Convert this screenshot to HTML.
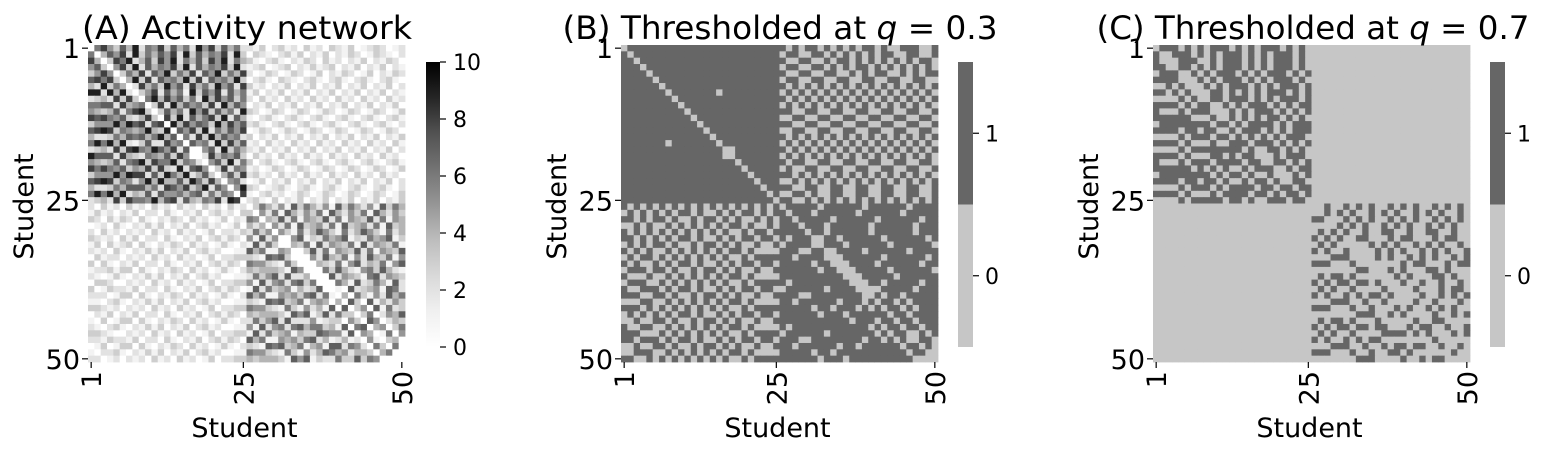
<!DOCTYPE html>
<html><head><meta charset="utf-8"><style>
body{margin:0;background:#fff}
svg text{font-family:"DejaVu Sans","Liberation Sans",sans-serif;fill:#000}
</style></head><body>
<svg id="fig" width="1546" height="452" viewBox="0 0 1546 452" xmlns="http://www.w3.org/2000/svg">
<defs>
<linearGradient id="greys" x1="0" y1="1" x2="0" y2="0">
<stop offset="0" stop-color="#ffffff"/><stop offset="0.125" stop-color="#f0f0f0"/><stop offset="0.25" stop-color="#d9d9d9"/><stop offset="0.375" stop-color="#bdbdbd"/><stop offset="0.5" stop-color="#969696"/><stop offset="0.625" stop-color="#737373"/><stop offset="0.75" stop-color="#525252"/><stop offset="0.875" stop-color="#252525"/><stop offset="1" stop-color="#000000"/>
</linearGradient>
</defs>
</svg>
<script>
const topLeft=["0685374926583746295837462","6047582936475829374658293","5703869247385926473859264","7460583927465839274658392","4859036482759364827593648","8275604938275649382756493","3946750284639572846395728","9527468035827461937582746","2694857306948573629485736","6382947560382947563829475","5837462950837462958374629","7469283746058392746839274","4758392647503948576394857","8362947583620475839264758","3948576293847056283947562","6259384756293840756293847","5847293648572938405729364","7392846573928465702846573","4685739264857392640573926","9473826594738265947038265","2856947382569473825604738","6749385627493856274930562","5382746958327469583274059","8694573826945738269457308","3475869234758692347586920"];
const offBlock=["2130231203120321301232012","0321023130213021320132102","3102310213203120213021320","1230123021312302130213021","2013201320130213201302132","0231032102310231023102310","3120213021302130213021302","1302130213021302130213021","2031203120312031203120312","0213021302130213021302130","3201320132013201320132013","1023102310231023102310231","2310231023102310231023102","0132013201320132013201320","3021302130213021302130213","1203120312031203120312031","2130213021302130213021302","0312031203120312031203120","3023102310231023102310231","1201320132013201320132013","2312031203120312031203120","0130213021302130213021302","3201231023102310231023102","1023120132013201320132013","2310302130213021302130213"];
const bottomRight=["0364251736425173642517364","3052617425361742536174253","6504372615437261543726154","4370526173452617345261734","2647053162475316247531624","5126340571326457132645713","1735260436172543617254361","7254163503726154372615437","3617425360527436152743615","6432715246043261572436157","4261537421506374215637421","2543671352460725431672543","5176243617523064172364172","1724536172453610723451762","7345162745316254063152746","3562714253671425730714253","6213547162354716235071623","4751362547136254713602547","2436175243617524361750243","5163724516372451637245036","1627453162745316274531605","7354216735421673542167340","3542671354267135426713560","6271345627134562713456270","4615237461523746152374610"];
const tickLabels=["1","25","50"];
const tickIdx=[0,24,49];
const cbTicksA=[0,2,4,6,8,10];
const quantiles=[0.3,0.7];

const N=50;
const rows=[];
for(let i=0;i<N;i++){rows.push(i<25?topLeft[i]+offBlock[i]:"0".repeat(25)+bottomRight[i-25]);}
const M=[];
for(let i=0;i<N;i++){M.push(new Array(N).fill(0));}
for(let i=0;i<N;i++)for(let j=i+1;j<N;j++){const v=+rows[i][j];M[i][j]=v;M[j][i]=v;}
function quantile(q){const a=[];M.forEach(r=>r.forEach(v=>a.push(v)));a.sort((x,y)=>x-y);const p=q*(a.length-1);const lo=Math.floor(p);return a[lo]+(a[Math.min(lo+1,a.length-1)]-a[lo])*(p-lo);}

const NS="http://www.w3.org/2000/svg";
const svg=document.getElementById('fig');
function mk(tag,attrs,parent){const e=document.createElementNS(NS,tag);for(const k in attrs)e.setAttribute(k,attrs[k]);(parent||svg).appendChild(e);return e;}
const stops=["#ffffff","#f0f0f0","#d9d9d9","#bdbdbd","#969696","#737373","#525252","#252525","#000000"];
function hex(h){return [1,3,5].map(k=>parseInt(h.substr(k,2),16));}
function greys(v){let t=Math.max(0,Math.min(1,v/10))*8;const i=Math.min(7,Math.floor(t));const f=t-i;const a=hex(stops[i]),b=hex(stops[i+1]);return "rgb("+a.map((c,k)=>Math.round(c+(b[k]-c)*f)).join(",")+")";}
const Y0=45,SIZE=317,CELL=SIZE/N;
function xs(x0,j){return x0+j*CELL;}
function ys(i){return Y0+i*CELL;}

function panel(x0,name,title,colorFn,qlabel,titleCx,titleW){
  const g=mk('g',{});
  
  
  for(let i=0;i<N;i++)for(let j=0;j<N;j++){
    const r=mk('rect',{x:xs(x0,j).toFixed(2),y:ys(i).toFixed(2),width:(CELL+0.4).toFixed(2),height:(CELL+0.4).toFixed(2),fill:colorFn(M[i][j])},g);
    
    
  }
  tickIdx.forEach((ti,k)=>{
    const yc=ys(ti)+CELL/2, xc=xs(x0,ti)+CELL/2;
    mk('line',{x1:x0-6,x2:x0,y1:yc,y2:yc,stroke:'#000','stroke-width':1.2},g);
    const t=mk('text',{x:x0-8,y:yc+10,'text-anchor':'end','font-size':27},g);t.textContent=tickLabels[k];
    
    
    mk('line',{x1:xc,x2:xc,y1:Y0+SIZE,y2:Y0+SIZE+6,stroke:'#000','stroke-width':1.2},g);
    const t2=mk('text',{x:0,y:0,'text-anchor':'end','font-size':27,transform:`translate(${xc+10},${Y0+SIZE+9}) rotate(-90)`},g);t2.textContent=tickLabels[k];
    
    
  });
  const xl=mk('text',{x:x0+SIZE/2-2,y:437,'text-anchor':'middle','font-size':27},g);xl.textContent='Student';
  
  
  const yl=mk('text',{x:0,y:0,'text-anchor':'middle','font-size':27,transform:`translate(${x0-55},${Y0+SIZE/2+3}) rotate(-90)`},g);yl.textContent='Student';
  
  
  const tt=mk('text',{x:titleCx-titleW/2,y:39,'font-size':32,textLength:titleW,lengthAdjust:'spacingAndGlyphs'},g);
  
  
  if(qlabel){tt.textContent=title;const ts=mk('tspan',{'font-style':'italic'},tt);ts.textContent='q';const ts2=mk('tspan',{},tt);ts2.textContent=' = '+qlabel;}
  else tt.textContent=title;
}
panel(88,'panel-a-activity','(A) Activity network',greys,null,247,330);
const q30=quantile(quantiles[0]),q70=quantile(quantiles[1]);
const DARK='#666666',LIGHT='#c6c6c6';
panel(621,'panel-b-threshold-03','(B) Thresholded at ',v=>v>q30?DARK:LIGHT,'0.3',780,435);
panel(1153,'panel-c-threshold-07','(C) Thresholded at ',v=>v>q70?DARK:LIGHT,'0.7',1313,433);

// colorbar A
const CBT=62,CBB=347;
const cba=mk('rect',{x:426,y:CBT,width:14,height:CBB-CBT,fill:'url(#greys)'});


cbTicksA.forEach(v=>{const y=CBB-(CBB-CBT)*v/10;mk('line',{x1:440,x2:446,y1:y,y2:y,stroke:'#000','stroke-width':1.2});const t=mk('text',{x:453,y:y+8,'font-size':22});t.textContent=v;

});
// binary colorbars
[958,1490].forEach((cx,k)=>{
  const mid=(CBT+CBB)/2;
  const r1=mk('rect',{x:cx,y:CBT,width:15,height:mid-CBT,fill:DARK});
  
  
  const r2=mk('rect',{x:cx,y:mid,width:15,height:CBB-mid,fill:LIGHT});
  
  
  [[1,(CBT+mid)/2],[0,(mid+CBB)/2]].forEach(([v,y])=>{mk('line',{x1:cx+15,x2:cx+21,y1:y,y2:y,stroke:'#000','stroke-width':1.2});const t=mk('text',{x:cx+27,y:y+8,'font-size':22});t.textContent=v;
  
  });
});
</script>
</body></html>
